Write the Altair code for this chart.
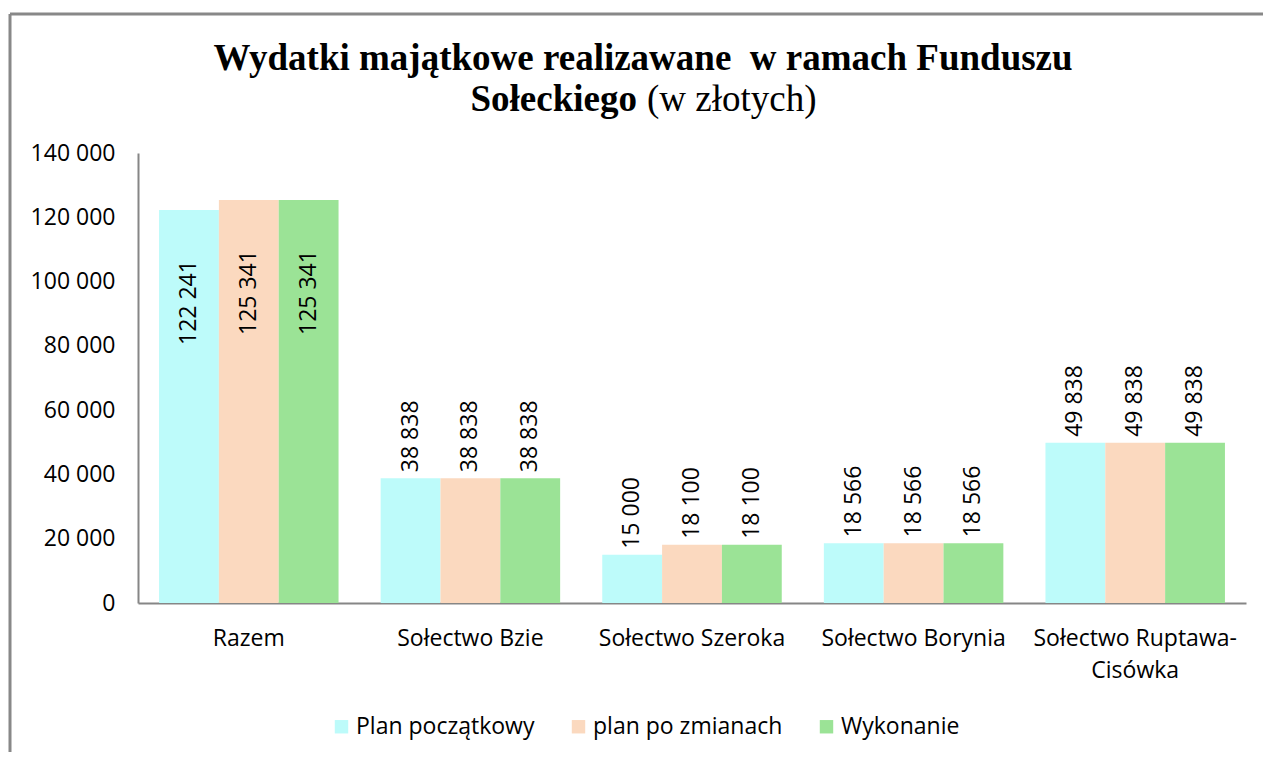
import altair as alt
import pandas as pd

categories = ["Razem", "Sołectwo Bzie", "Sołectwo Szeroka", "Sołectwo Borynia", "Sołectwo Ruptawa-Cisówka"]
series = ["Plan początkowy", "plan po zmianach", "Wykonanie"]
plan_poczatkowy = [122241, 38838, 15000, 18566, 49838]
plan_po_zmianach = [125341, 38838, 18100, 18566, 49838]
wykonanie = [125341, 38838, 18100, 18566, 49838]
colors = ["#BDFBFA", "#FBD9BF", "#9BE396"]
y_ticks = [0, 20000, 40000, 60000, 80000, 100000, 120000, 140000]

rows = []
for s, vals in zip(series, [plan_poczatkowy, plan_po_zmianach, wykonanie]):
    for c, v in zip(categories, vals):
        rows.append({"kategoria": c, "seria": s, "wartosc": v})
df = pd.DataFrame(rows)

FONT = "Open Sans"
FS = 23

x_enc = alt.X(
    "kategoria:N", sort=categories, title=None,
    scale=alt.Scale(paddingInner=0.19, paddingOuter=0.095),
    axis=alt.Axis(
        labelAngle=0, ticks=False, tickSize=0, labelPadding=24, labelFont=FONT,
        labelFontSize=FS, labelColor="#000000", labelLimit=400, labelLineHeight=32,
        domainColor="#868686", domainWidth=2,
        labelExpr="datum.value == 'Sołectwo Ruptawa-Cisówka' ? ['Sołectwo Ruptawa-', 'Cisówka'] : datum.value",
    ),
)
xo_enc = alt.XOffset("seria:N", sort=series, scale=alt.Scale(paddingInner=0, paddingOuter=0))
y_enc = alt.Y(
    "wartosc:Q", title=None,
    scale=alt.Scale(domain=[0, 140000], nice=False),
    axis=alt.Axis(
        values=y_ticks, grid=False, ticks=False, tickSize=0, labelPadding=23,
        labelFont=FONT, labelFontSize=FS, labelColor="#000000",
        domainColor="#868686", domainWidth=2,
        labelExpr="join(split(format(datum.value, ','), ','), ' ')",
    ),
)

base = alt.Chart(df).encode(x=x_enc, xOffset=xo_enc, y=y_enc)

bars = base.mark_bar().encode(
    color=alt.Color(
        "seria:N", sort=series, scale=alt.Scale(domain=series, range=colors),
        legend=alt.Legend(
            title=None, orient="none", direction="horizontal", legendX=192, legendY=562,
            symbolType="square", symbolSize=180, symbolStrokeWidth=0, labelFont=FONT,
            labelFontSize=FS, labelColor="#000000", columnPadding=32, labelOffset=3,
            labelLimit=400,
        ),
    )
)

lbl = base.transform_calculate(
    etykieta="join(split(format(datum.wartosc, ','), ','), ' ')"
)

labels_out = lbl.transform_filter("datum.wartosc < 100000").mark_text(
    angle=270, align="left", baseline="middle", dx=6, font=FONT, fontSize=FS, color="#000000"
).encode(text="etykieta:N")

labels_in = lbl.transform_filter("datum.wartosc >= 100000").mark_text(
    angle=270, align="right", baseline="middle", dx=-50, font=FONT, fontSize=FS, color="#000000"
).encode(text="etykieta:N")

TFS = 37
one = pd.DataFrame({"t": ["Wydatki majątkowe realizawane\u00a0 w ramach Funduszu"]})
title1 = alt.Chart(one).mark_text(
    font="Liberation Serif", fontSize=TFS, fontWeight="bold", align="center", baseline="alphabetic", color="#000000"
).encode(x=alt.value(505), y=alt.value(-83), text="t:N")

t2a = alt.Chart(pd.DataFrame({"t": ["Sołeckiego"]})).mark_text(
    font="Liberation Serif", fontSize=TFS, fontWeight="bold", align="right", baseline="alphabetic", color="#000000"
).encode(x=alt.value(499), y=alt.value(-42), text="t:N")
t2b = alt.Chart(pd.DataFrame({"t": ["(w złotych)"]})).mark_text(
    font="Liberation Serif", fontSize=TFS, align="left", baseline="alphabetic", color="#000000"
).encode(x=alt.value(509), y=alt.value(-42), text="t:N")

frame_top = alt.Chart(pd.DataFrame({"a": [0]})).mark_rule(color="#888888", strokeWidth=3).encode(
    x=alt.value(-128), x2=alt.value(1130), y=alt.value(-139)
)
frame_left = alt.Chart(pd.DataFrame({"a": [0]})).mark_rule(color="#888888", strokeWidth=3).encode(
    x=alt.value(-128), y=alt.value(-139), y2=alt.value(600)
)

chart = alt.layer(bars, labels_out, labels_in, title1, t2a, t2b, frame_top, frame_left).properties(
    width=1108, height=450,
    autosize=alt.AutoSizeParams(type="none"),
    padding={"left": 130, "top": 145, "right": 17, "bottom": 149},
    background="#FFFFFF",
).configure_view(strokeWidth=0)

chart.save("out.html", embed_options={"renderer": "svg", "actions": False})
